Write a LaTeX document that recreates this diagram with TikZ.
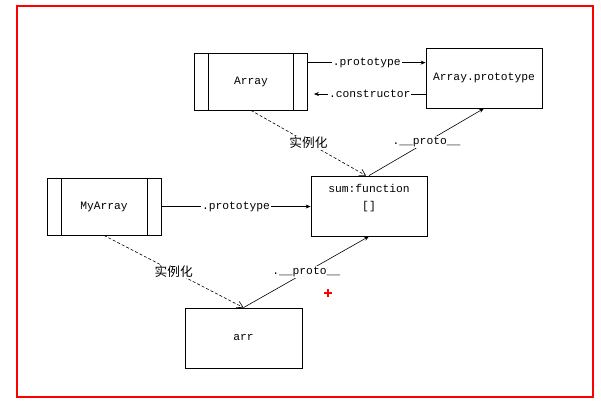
\documentclass[tikz,border=0pt]{standalone}
\usepackage{fontspec}
\setmonofont{Liberation Mono}
\newfontfamily\cjk{Noto Sans CJK SC}
\usetikzlibrary{arrows.meta}
\usetikzlibrary{calc,positioning}

\begin{document}
\begin{tikzpicture}[x=1pt, y=-1pt, >=Stealth,
    font=\ttfamily\fontsize{11.3}{17}\selectfont,
    plainbox/.style={draw, line width=0.8pt, inner sep=0pt, minimum width=116pt, minimum height=60pt},
    classbox/.style={plainbox, minimum width=113pt, minimum height=57pt,
        path picture={
            \draw[line width=0.8pt] ([xshift=14pt]path picture bounding box.north west) -- ([xshift=14pt]path picture bounding box.south west);
            \draw[line width=0.8pt] ([xshift=-14pt]path picture bounding box.north east) -- ([xshift=-14pt]path picture bounding box.south east);
        }},
    link/.style={line width=0.6pt, -{Stealth[length=5pt, width=4pt]}},
    inst/.style={line width=0.6pt, dashed, dash pattern=on 3pt off 2pt, -{Straight Barb[length=6pt, width=7pt]}},
    tag/.style={fill=white, inner sep=1pt},
    zh/.style={tag, font=\cjk\fontsize{12.7}{14}\selectfont}]

    \useasboundingbox (0,0) rectangle (601,407);
    \fill[white] (0,0) rectangle (601,407);
    \draw[red, line width=2.5pt] (17,6) rectangle (593,397);

    \node[classbox] (arrayfn) at (251,81.5) {Array};
    \node[plainbox] (arrayproto) at (484,78) {Array.prototype};
    \node[plainbox, label={[align=center, inner sep=0pt, label distance=-36pt]north:{sum:function\\{}[]}}] (sumfn) at (369,206) {};
    \node[classbox, minimum width=114pt] (myarray) at (104,206.5) {MyArray};
    \node[plainbox, minimum width=117pt] (arr) at (243.5,338) {arr};

    \coordinate (ptop) at ([yshift=-10pt]arrayfn.north east);
    \coordinate (ctor) at ([yshift=-16pt]arrayproto.west);

    \draw[link] (ptop) -- node[tag]{.prototype} (ptop -| arrayproto.west);
    \draw[link, shorten >=6pt] (ctor) -- node[tag, xshift=3pt]{.constructor} (ctor -| arrayfn.east);
    \draw[link] (myarray.east) -- node[tag]{.prototype} (myarray.east -| sumfn.west);

    \draw[inst] (arrayfn.south) -- node[zh]{实例化} ([xshift=-3pt]sumfn.north);
    \draw[link] (sumfn.north) -- node[tag]{.\_\_proto\_\_} (arrayproto.south);
    \draw[inst] (myarray.south) -- node[zh]{实例化} (arr.north);
    \draw[link] (arr.north) -- node[tag]{.\_\_proto\_\_} (sumfn.south);

    % red cross
    \draw[red, line width=2pt] (324,293) -- (332,293) (328,289) -- (328,297);

\end{tikzpicture}
\end{document}
